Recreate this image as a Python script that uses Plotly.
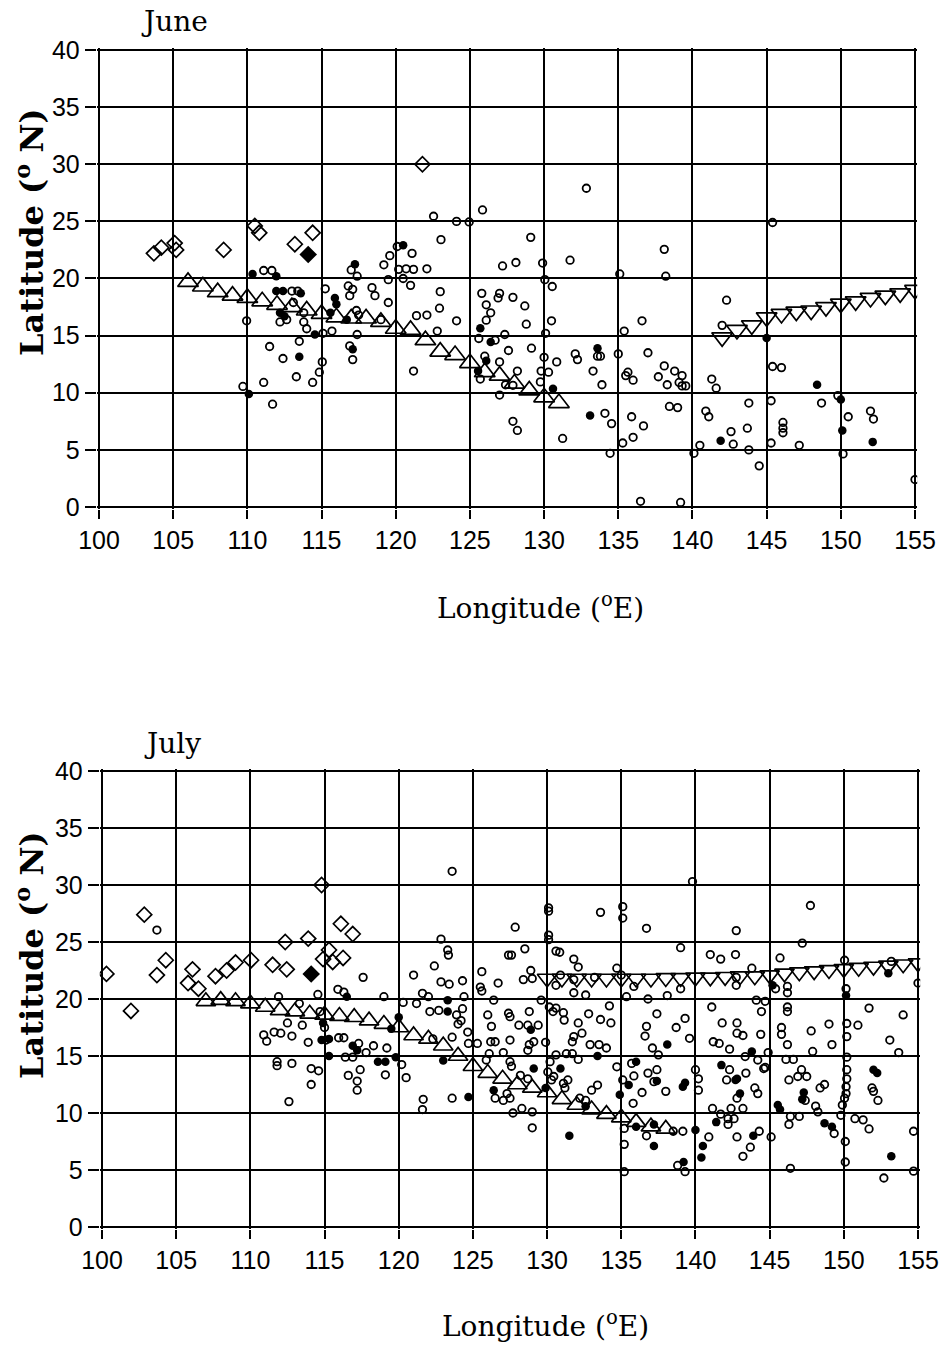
import plotly.graph_objects as go

# ---------------- DATA (longitude °E, latitude °N) ----------------
june_open = [
 (111.1,20.7),(111.65,20.7),(109.95,16.3),(111.5,14.05),(112.4,13.0),(113.5,14.5),(113.3,11.4),(114.4,10.9),
 (114.85,11.8),(115.05,12.7),(109.7,10.55),(111.1,10.9),(111.7,9.0),(115.1,15.2),(115.7,15.4),(113.8,16.2),
 (114.0,15.6),(116.9,14.1),(117.1,12.9),(117.4,15.1),(115.25,19.1),(117.0,20.75),(117.4,20.2),(116.8,19.35),
 (117.1,19.05),(116.9,18.5),(117.35,17.2),(117.5,16.8),(118.4,19.2),(118.6,18.5),(119.2,21.2),(119.6,22.0),
 (119.5,19.9),(119.5,17.9),(119.0,16.4),(113.0,18.9),(113.4,18.9),(113.1,17.9),(112.2,16.2),(112.65,16.4),
 (113.8,17.0),
 (132.85,27.9),(125.85,26.0),(122.55,25.45),(124.1,25.0),(124.95,24.95),(123.05,23.4),(129.1,23.6),(120.1,22.8),
 (121.1,22.2),(120.2,20.8),(120.7,20.85),(121.2,20.8),(122.1,20.85),(120.5,20.0),(121.0,19.4),(127.2,21.1),
 (128.1,21.4),(129.9,21.35),(131.75,21.6),(135.1,20.4),(130.05,19.9),(130.55,19.3),(138.1,22.55),(138.2,20.2),
 (123.0,18.85),(122.95,17.4),(121.4,16.75),(122.1,16.8),(122.8,15.4),(124.1,16.3),(125.8,18.7),(126.1,17.7),
 (126.4,17.0),(126.1,16.35),(127.0,18.7),(126.9,18.3),(127.9,18.35),(128.7,17.6),(128.8,16.0),(130.5,16.3),
 (125.6,14.75),(126.7,14.6),(127.35,15.1),(127.6,13.7),(129.15,13.9),(130.1,15.2),(135.4,15.4),(136.6,16.3),
 (121.2,11.9),(130.0,13.1),(130.85,12.7),(129.8,11.9),(130.3,11.8),(129.75,10.95),(125.7,11.2),(126.0,13.2),
 (127.0,12.7),(128.2,11.9),(127.4,10.7),(127.9,10.65),(127.0,9.8),(127.9,7.5),(128.2,6.7),(131.25,6.0),
 (134.1,8.2),(134.55,7.3),(134.45,4.7),(135.9,7.9),(136.7,7.1),(136.0,6.1),(135.3,5.6),(136.5,0.5),
 (132.1,13.4),(132.25,12.9),(133.3,11.9),(133.9,10.7),(133.6,13.2),(133.8,13.2),(135.0,13.4),(135.5,11.5),
 (135.65,11.8),(136.0,11.1),(137.0,13.5),(138.45,8.8),(139.0,8.7),
 (142.3,18.1),(142.0,15.9),(138.1,12.35),(138.8,11.9),(139.3,11.5),(137.7,11.4),(138.3,10.7),(139.1,10.9),
 (139.3,10.6),(139.55,10.6),(141.3,11.2),(141.6,10.4),(145.4,12.3),(146.0,12.2),(149.8,9.75),(148.7,9.1),
 (145.3,9.3),(140.9,8.4),(141.1,7.9),(143.8,9.1),(143.7,6.9),(142.6,6.6),(142.75,5.5),(140.5,5.4),
 (140.1,4.7),(143.8,5.0),(144.5,3.6),(145.3,5.6),(146.1,7.4),(146.1,6.9),(146.1,6.5),(147.2,5.4),
 (150.15,4.65),(150.5,7.9),(152.0,8.4),(152.2,7.7),(155.0,2.4),(139.2,0.4),(145.4,24.9),
]
june_filled = [
 (110.35,20.4),(111.95,20.2),(113.5,13.15),(110.1,9.9),(114.55,15.1),(117.1,13.8),(115.9,18.3),(116.0,17.75),
 (115.6,17.0),(116.7,16.4),(117.25,21.25),(111.95,18.9),(112.4,18.9),(113.6,18.7),(112.2,17.0),(112.5,16.7),
 (120.5,22.9),(125.7,15.65),(126.4,14.45),(133.6,13.9),(125.55,11.9),(126.1,12.8),(130.6,10.35),(133.1,8.0),
 (145.0,14.8),(148.4,10.7),(150.0,9.4),(141.9,5.8),(150.1,6.7),(152.15,5.7),
]
june_diamond_open = [
 (103.7,22.2),(104.2,22.7),(105.1,23.1),(105.2,22.5),(108.4,22.5),(110.5,24.6),(110.8,24.0),
 (113.2,23.0),(114.4,24.0),(121.8,30.0),
]
june_diamond_filled = [(114.1,22.1)]
june_up_lon = list(range(106, 132))
june_up_lat = [19.7,19.3,18.8,18.5,18.3,18.0,17.7,17.5,17.2,16.9,16.6,16.5,16.5,16.2,
               15.6,15.5,14.6,13.6,13.3,12.6,11.8,11.5,10.8,10.2,9.6,9.1]
june_down_lon = list(range(142, 156))
june_down_lat = [14.85,15.5,15.9,16.6,16.9,17.1,17.2,17.5,17.8,18.0,18.3,18.5,18.7,19.0]

july_open = [
 (103.7,26.05),(111.9,20.2),(110.9,16.85),(111.1,16.3),(111.6,17.1),(112.05,17.0),(112.8,16.75),(112.5,17.9),
 (113.5,17.7),(111.8,14.5),(111.8,14.15),(112.8,14.35),(112.6,11.0),(113.9,16.2),(114.1,13.9),(114.1,12.5),
 (113.3,19.6),(114.7,18.9),(115.0,17.5),
 (123.6,31.2),(122.85,25.25),(123.3,24.3),(123.35,23.85),(122.4,22.9),(121.0,22.1),(125.6,22.4),(117.6,21.9),
 (122.85,21.5),(123.4,21.3),(124.3,21.6),(125.5,21.05),(125.6,20.7),(115.9,20.85),(114.55,20.4),(116.3,20.6),
 (119.0,20.2),(121.6,20.5),(122.0,20.2),(120.3,19.7),(121.2,19.6),(124.4,20.2),(122.1,18.9),(122.7,19.0),
 (124.3,19.15),(123.9,18.6),(124.2,18.1),(124.0,17.8),(124.65,17.1),(122.3,16.5),(123.6,16.65),(124.7,16.1),
 (125.3,16.1),(118.3,15.9),(119.2,15.7),(116.3,16.6),(115.95,16.6),(115.1,16.4),(117.3,16.1),(117.8,15.3),
 (116.4,14.9),(116.9,14.9),(120.2,14.25),(114.6,13.7),(117.4,13.8),(116.6,13.3),(117.2,12.8),(117.2,12.0),
 (119.1,13.35),(120.5,13.1),(121.65,11.2),(121.6,10.3),(123.6,11.3),
 (139.8,30.3),(130.1,28.0),(130.1,27.7),(135.1,28.1),(135.1,27.1),(133.6,27.6),(127.85,26.3),(136.7,26.2),
 (130.1,25.6),(130.1,25.2),(128.5,24.4),(139.0,24.5),(127.4,23.85),(127.6,23.85),(130.6,24.2),(130.85,24.1),
 (131.8,23.5),(132.1,22.8),(128.9,22.5),(126.7,21.4),(128.4,21.7),(129.0,21.8),(130.9,22.1),(131.8,21.7),
 (134.7,22.7),(135.0,22.1),(133.2,21.9),(130.6,21.2),(131.8,20.55),(132.6,20.35),(129.6,19.9),(135.35,20.2),
 (135.85,21.1),(136.8,20.0),(138.1,20.3),(139.0,20.9),(130.15,19.3),(130.6,19.2),(130.4,18.9),(134.2,19.4),
 (126.4,19.9),(126.0,18.6),(126.25,17.6),(127.4,18.75),(127.5,18.45),(128.8,18.9),(131.1,18.8),(131.15,18.15),
 (132.8,18.7),(133.6,18.2),(134.3,17.9),(137.4,18.7),(139.3,18.3),(136.7,17.6),(136.6,16.75),(138.7,17.5),
 (139.6,16.55),(128.1,17.7),(128.7,17.7),(129.4,17.7),(132.1,17.9),(132.35,17.0),(131.8,16.7),(131.7,16.25),
 (128.8,16.0),(129.1,16.25),(128.7,15.5),(127.5,16.4),(126.2,16.25),(126.5,16.25),(132.9,16.0),(133.5,16.0),
 (134.0,15.7),(131.7,15.2),(129.9,16.2),(137.1,15.7),(137.5,15.1),(126.1,15.2),(127.05,15.3),(125.9,14.65),
 (130.6,15.1),(131.3,15.2),(132.1,14.7),(130.2,14.5),(134.7,14.05),(135.7,14.35),(136.8,13.5),(137.4,13.8),
 (137.2,12.75),(136.4,11.8),(138.0,11.9),(140.2,13.0),(140.2,12.0),(140.0,13.8),(127.5,14.5),(127.6,14.1),
 (128.2,13.3),(128.7,13.0),(130.05,13.6),(130.45,13.2),(130.3,12.9),(131.1,12.6),(131.4,12.9),(131.2,12.2),
 (135.1,12.9),(135.85,13.25),(133.0,12.0),(133.4,12.45),(132.6,11.1),(132.2,11.3),(135.8,10.85),(127.3,11.7),
 (126.5,11.3),(127.05,11.1),(127.5,11.3),(127.7,10.0),(128.3,10.4),(129.0,10.1),(129.0,8.7),(135.2,8.65),
 (135.2,7.25),(135.2,4.85),(136.7,8.0),(138.8,5.4),(139.3,4.85),(138.5,8.4),(139.15,8.4),
 (147.75,28.2),(142.75,26.0),(147.2,24.9),(141.0,23.9),(141.7,23.5),(142.7,23.9),(145.7,23.6),(150.05,23.4),
 (153.2,23.3),(143.8,22.7),(142.75,21.9),(142.75,21.2),(145.4,20.9),(146.2,21.1),(146.2,20.55),(150.15,20.9),
 (155.0,21.4),(144.1,19.9),(144.7,19.8),(144.45,18.9),(141.1,19.3),(146.2,19.3),(146.2,18.9),(151.7,19.2),
 (154.0,18.6),(141.8,17.9),(142.8,17.9),(142.8,17.0),(143.2,16.8),(144.4,16.9),(145.8,17.5),(145.8,16.9),
 (146.2,16.0),(147.8,17.2),(149.0,17.8),(149.2,16.0),(150.2,17.85),(150.2,16.7),(150.95,17.7),(153.1,16.4),
 (153.7,15.3),(141.2,16.25),(141.6,16.1),(142.3,15.6),(147.9,15.4),(143.35,14.95),(144.2,14.65),(144.7,14.0),
 (144.9,15.3),(146.1,14.7),(146.6,14.7),(150.2,14.9),(150.2,13.8),(150.2,13.0),(150.15,12.3),(150.15,11.7),
 (150.05,11.3),(149.9,10.7),(151.9,12.2),(152.0,11.9),(152.3,11.1),(142.3,13.8),(142.1,12.9),(143.4,13.5),
 (144.0,12.2),(144.2,11.7),(142.8,11.3),(144.6,13.9),(146.3,12.9),(146.9,13.2),(147.15,13.8),(147.5,13.2),
 (148.4,12.2),(148.7,12.5),(147.4,11.1),(148.1,10.6),(148.25,10.1),(146.4,9.7),(146.3,9.0),(147.0,9.7),
 (149.35,8.2),(149.8,9.8),(150.75,9.5),(151.3,9.4),(151.7,8.6),(150.1,7.5),(150.1,5.7),(154.7,8.4),
 (152.7,4.3),(154.7,4.9),(146.4,5.15),(141.15,10.4),(141.7,9.9),(142.2,9.5),(142.2,9.0),(142.6,9.5),
 (143.2,10.4),(140.9,7.9),(142.8,7.9),(143.7,7.0),(143.2,6.2),(144.3,8.4),(145.1,7.9),(142.4,10.4),
]
july_filled = [
 (116.5,20.2),(123.3,19.9),(123.3,18.9),(120.0,18.4),(119.5,17.4),(116.9,15.9),(117.2,15.5),(114.8,16.4),
 (115.3,16.5),(115.3,15.0),(118.6,14.5),(119.1,14.5),(119.8,14.9),(124.7,11.4),(123.0,14.6),(114.9,17.9),
 (128.9,17.3),(138.1,16.0),(133.4,15.0),(136.0,14.5),(137.4,12.8),(139.3,12.65),(139.15,12.3),(129.1,13.9),
 (129.9,12.2),(135.5,12.45),(132.6,10.6),(134.9,11.6),(126.4,12.0),(131.5,8.0),(136.0,8.8),(137.2,7.1),
 (137.2,9.0),(139.2,5.7),(140.0,8.5),(140.5,7.1),(140.4,6.1),(130.9,13.9),
 (153.0,22.25),(145.2,21.2),(150.15,20.3),(143.8,15.4),(152.0,13.8),(152.25,13.5),(141.75,14.2),(142.7,12.9),
 (142.8,13.0),(143.0,11.7),(147.3,11.8),(147.2,11.2),(145.55,10.7),(145.7,10.3),(148.7,9.1),(149.2,8.8),
 (141.4,9.2),(143.9,8.0),(153.2,6.2),
]
july_diamond_open = [
 (100.3,22.2),(101.95,18.95),(102.85,27.4),(103.7,22.1),(104.3,23.4),(105.8,21.4),(106.1,22.6),(106.5,20.9),
 (107.65,22.0),(108.4,22.5),(109.0,23.2),(110.05,23.4),(111.5,23.0),(112.45,22.6),(112.35,25.0),(113.9,25.3),
 (114.8,30.0),(116.1,26.6),(116.9,25.7),(115.3,24.3),(114.9,23.5),(115.55,23.25),(116.25,23.6),
]
july_diamond_filled = [(114.1,22.2)]
july_up_lon = list(range(107, 139))
july_up_lat = [19.8,19.9,19.8,19.6,19.3,19.0,18.9,18.7,18.6,18.5,18.4,18.1,17.8,17.5,16.8,16.5,
               15.9,15.0,14.1,13.5,13.0,12.5,12.2,11.8,11.2,10.7,10.3,9.9,9.6,9.2,8.8,8.6]
july_down_lon = list(range(130, 156))
july_down_lat = [21.8,21.8,21.8,21.8,21.8,21.8,21.8,21.8,21.85,21.85,21.9,21.9,21.95,22.0,22.0,
                 22.1,22.25,22.35,22.45,22.55,22.65,22.75,22.85,22.95,23.05,23.15]

x_ticks = list(range(100, 160, 5))
y_ticks = list(range(0, 45, 5))

# ---------------- FIGURE ----------------
fig = go.Figure()

def xs(pts): return [p[0] for p in pts]
def ys(pts): return [p[1] for p in pts]

def add_panel(xa, ya, opn, fil, dopen, dfill, uplon, uplat, dnlon, dnlat, tri_size):
    fig.add_trace(go.Scatter(x=xs(opn), y=ys(opn), mode="markers", xaxis=xa, yaxis=ya,
        marker=dict(symbol="circle-open", size=7.5, color="black", line=dict(width=1.8, color="black"))))
    fig.add_trace(go.Scatter(x=xs(fil), y=ys(fil), mode="markers", xaxis=xa, yaxis=ya,
        marker=dict(symbol="circle", size=8.5, color="black")))
    fig.add_trace(go.Scatter(x=uplon, y=uplat, mode="markers", xaxis=xa, yaxis=ya,
        marker=dict(symbol="triangle-up-open", size=tri_size, color="black", line=dict(width=1.7, color="black"))))
    fig.add_trace(go.Scatter(x=dnlon, y=dnlat, mode="markers", xaxis=xa, yaxis=ya,
        marker=dict(symbol="triangle-down-open", size=tri_size, color="black", line=dict(width=1.7, color="black"))))
    fig.add_trace(go.Scatter(x=xs(dopen), y=ys(dopen), mode="markers", xaxis=xa, yaxis=ya,
        marker=dict(symbol="diamond-open", size=11.5, color="black", line=dict(width=1.7, color="black"))))
    fig.add_trace(go.Scatter(x=xs(dfill), y=ys(dfill), mode="markers", xaxis=xa, yaxis=ya,
        marker=dict(symbol="diamond", size=13.5, color="black")))

add_panel("x", "y", june_open, june_filled, june_diamond_open, june_diamond_filled,
          june_up_lon, june_up_lat, june_down_lon, june_down_lat, 18)
add_panel("x2", "y2", july_open, july_filled, july_diamond_open, july_diamond_filled,
          july_up_lon, july_up_lat, july_down_lon, july_down_lat, 17)

W, H = 949, 1347
tickfont = dict(family="Liberation Sans, Arial, sans-serif", size=25, color="black")
XPAD, YPAD = 0.15, 0.15

def xaxis(px0, px1, anchor):
    ppd = (px1 - px0) / 55.0
    a, b = px0 - XPAD * ppd, px1 + XPAD * ppd
    return dict(domain=[a / W, b / W], anchor=anchor, range=[100 - XPAD, 155 + XPAD], tickvals=x_ticks,
                showgrid=True, gridcolor="black", gridwidth=2, zeroline=False, showline=False,
                automargin=False, ticks="outside", ticklen=9, tickwidth=2, tickcolor="black",
                tickfont=tickfont)

def yaxis(py40, py0, anchor):
    ppd = (py0 - py40) / 40.0
    top, bot = py40 - YPAD * ppd, py0 + YPAD * ppd
    return dict(domain=[1 - bot / H, 1 - top / H], anchor=anchor, range=[-YPAD, 40 + YPAD],
                tickvals=y_ticks, showgrid=True, gridcolor="black", gridwidth=2, zeroline=False,
                showline=False, automargin=False, ticks="outside", ticklen=11, tickwidth=2,
                tickcolor="black", tickfont=tickfont)

fig.update_layout(
    width=W, height=H, margin=dict(l=0, r=0, t=0, b=0, autoexpand=False),
    paper_bgcolor="white", plot_bgcolor="white", showlegend=False,
    xaxis=xaxis(99, 915, "y"),
    yaxis=yaxis(50, 507, "x"),
    xaxis2=xaxis(102, 918, "y2"),
    yaxis2=yaxis(771, 1227, "x2"),
)

serif = "DejaVu Serif, Liberation Serif, serif"
ann = [
    dict(text="June", x=174/W, y=1 - 22/H, font=dict(family=serif, size=28)),
    dict(text="July", x=172/W, y=1 - 743/H, font=dict(family=serif, size=28)),
    dict(text="<b>Latitude (<sup>o</sup> N)</b>", x=30/W, y=1 - 232/H, textangle=-90,
         font=dict(family=serif, size=32)),
    dict(text="<b>Latitude (<sup>o</sup> N)</b>", x=30/W, y=1 - 955/H, textangle=-90,
         font=dict(family=serif, size=32)),
    dict(text="Longitude (<sup>o</sup>E)", x=540/W, y=1 - 606/H, font=dict(family=serif, size=28)),
    dict(text="Longitude (<sup>o</sup>E)", x=545/W, y=1 - 1324/H, font=dict(family=serif, size=28)),
]
for a in ann:
    a.update(xref="paper", yref="paper", showarrow=False, xanchor="center", yanchor="middle")
    a["font"]["color"] = "black"
fig.update_layout(annotations=ann)

fig.write_html("out.html")
